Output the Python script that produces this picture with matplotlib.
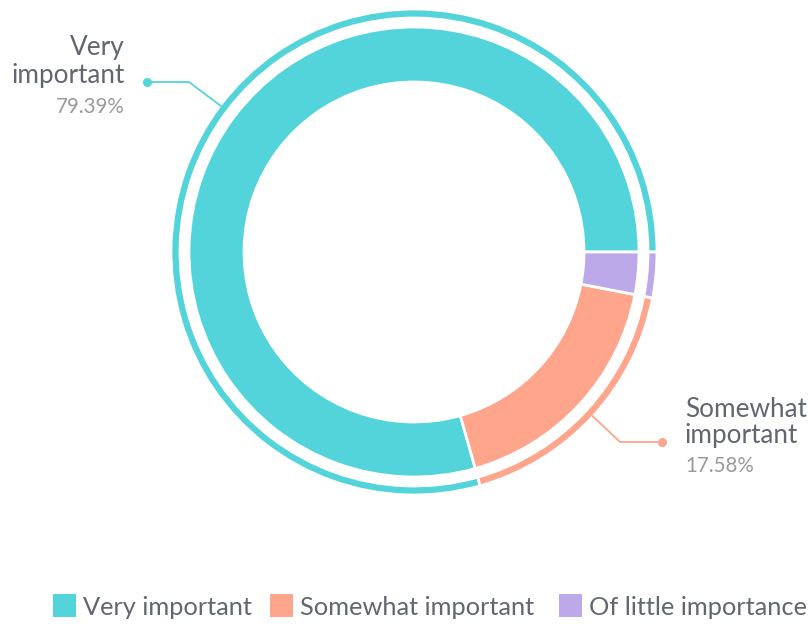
import numpy as np
import matplotlib
matplotlib.use("Agg")
import matplotlib.pyplot as plt
from matplotlib.patches import Rectangle

categories = ["Very important", "Somewhat important", "Of little importance"]
values = [79.39, 17.58, 3.03]
pct_labels = ["79.39%", "17.58%"]
colors = ["#53d4da", "#fea58c", "#bca9e9"]

plt.rcParams['font.family'] = ['Lato', 'DejaVu Sans']
W, H = 808, 624
fig = plt.figure(figsize=(W / 100, H / 100), dpi=100)
ax = fig.add_axes([0, 0, 1, 1])

cx, cy = 414, H - 252
r_main, w_main = 225, 55
r_outer, w_outer = 243, 9

ax.pie(values, radius=r_main, center=(cx, cy), startangle=0, counterclock=True,
       colors=colors, wedgeprops=dict(width=w_main, edgecolor='white', linewidth=2))
ax.pie(values, radius=r_outer, center=(cx, cy), startangle=0, counterclock=True,
       colors=colors, wedgeprops=dict(width=w_outer, edgecolor='white', linewidth=2))

ax.set_xlim(0, W)
ax.set_ylim(0, H)
ax.set_aspect('equal')
ax.axis('off')

label_color = "#62666f"
pct_color = "#9a9a9a"
fs = 18.8
pfs = 14.8

# leader lines
total = sum(values)
cum = np.cumsum([0] + values)
mids = [(cum[i] + cum[i + 1]) / 2 / total * 360 for i in range(len(values))]
r_lead = r_outer - 3

# Very important (left)
a = np.deg2rad(mids[0])
p0 = (cx + r_lead * np.cos(a), cy + r_lead * np.sin(a))
ax.plot([p0[0], 189, 147], [p0[1], H - 82, H - 82], color=colors[0], lw=1.3, zorder=1)
ax.plot([147], [H - 82], 'o', color=colors[0], ms=5.5)
ax.text(125, H - 55, "Very", ha='right', va='baseline', fontsize=fs, color=label_color)
ax.text(125, H - 83, "important", ha='right', va='baseline', fontsize=fs, color=label_color)
ax.text(125, H - 113, pct_labels[0], ha='right', va='baseline', fontsize=pfs, color=pct_color)

# Somewhat important (right)
a = np.deg2rad(mids[1])
p1 = (cx + r_lead * np.cos(a), cy + r_lead * np.sin(a))
ax.plot([p1[0], 620, 662], [p1[1], H - 442, H - 442], color=colors[1], lw=1.3, zorder=1)
ax.plot([662], [H - 442], 'o', color=colors[1], ms=5.5)
ax.text(685, H - 417, "Somewhat", ha='left', va='baseline', fontsize=fs, color=label_color)
ax.text(685, H - 443, "important", ha='left', va='baseline', fontsize=fs, color=label_color)
ax.text(685, H - 472, pct_labels[1], ha='left', va='baseline', fontsize=pfs, color=pct_color)

# legend
leg_x = [53, 270, 559]
for x, c, name in zip(leg_x, colors, categories):
    ax.add_patch(Rectangle((x, H - 617), 23, 23, color=c, lw=0))
    ax.text(x + 30, H - 615, name, ha='left', va='baseline', fontsize=18.3, color=label_color)

fig.savefig("out.png", dpi=100)
